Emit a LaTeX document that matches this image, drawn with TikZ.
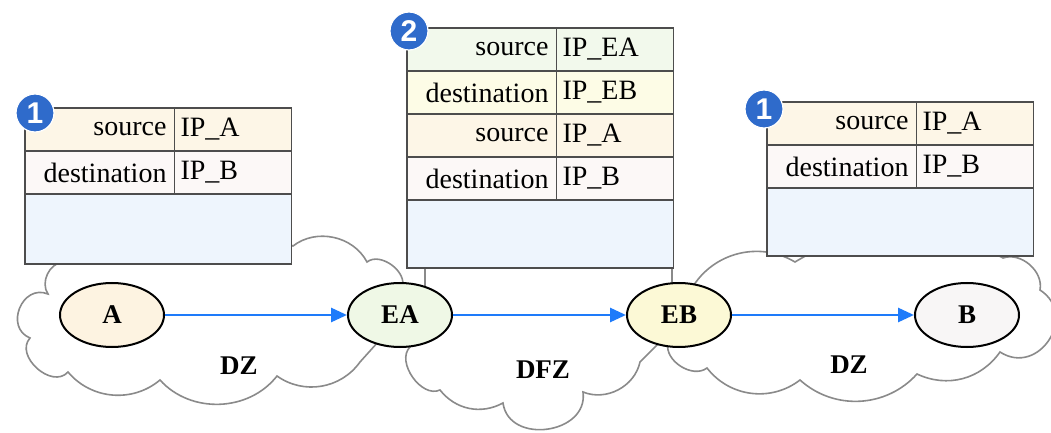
\documentclass[tikz,border=0pt]{standalone}
\usepackage{fontspec}
\setmainfont{Liberation Serif}
\newfontfamily\tabserif{Liberation Serif}
\newfontfamily\badgefont{Liberation Sans}
\usetikzlibrary{arrows.meta,shapes.geometric}
\definecolor{tabline}{HTML}{4D4D4D}
\definecolor{cloudline}{HTML}{8A8A8A}
\definecolor{srcA}{HTML}{FDF6E7}
\definecolor{dstB}{HTML}{FCF8F7}
\definecolor{blankc}{HTML}{EEF5FD}
\definecolor{srcEA}{HTML}{F2F9EC}
\definecolor{dstEB}{HTML}{FDFCE6}
\definecolor{fillA}{HTML}{FDF3E1}
\definecolor{fillEA}{HTML}{EFF8E6}
\definecolor{fillEB}{HTML}{FCF9D6}
\definecolor{fillB}{HTML}{F8F6F6}
\definecolor{badgeblue}{HTML}{2F6BCB}
\definecolor{arrowblue}{HTML}{1E7BFA}
\tikzset{
  tabfont/.style={font=\tabserif\fontsize{14}{16}\selectfont},
  cellk/.style={draw=tabline, line width=0.6pt, outer sep=0pt, minimum height=21.5pt, inner ysep=0pt,
    inner xsep=4pt, text width=66.75pt, align=right, anchor=north west, tabfont},
  cellv/.style={draw=tabline, line width=0.6pt, outer sep=0pt, minimum height=21.5pt, inner ysep=0pt,
    inner xsep=3pt, text width=52.5pt, align=left, anchor=north west, tabfont},
  blankcell/.style={draw=tabline, line width=0.6pt, outer sep=0pt, fill=blankc, minimum width=133.25pt,
    inner sep=0pt, anchor=north west},
  host/.style={ellipse, draw=black, line width=1pt, minimum width=52pt, minimum height=32pt,
    inner sep=0pt, font=\tabserif\fontsize{13.5}{16}\selectfont\bfseries},
  zone/.style={font=\tabserif\fontsize{13.5}{16}\selectfont\bfseries},
  badge/.style={circle, fill=badgeblue, draw=white, line width=0.6pt, minimum size=19pt,
    inner sep=0pt, text=white, font=\badgefont\fontsize{15}{15}\selectfont\bfseries},
  flow/.style={-{Triangle[length=8pt,width=7pt]}, line width=1.4pt, draw=arrowblue},
  cloudstroke/.style={draw=cloudline, line width=0.8pt}
}
\begin{document}
\begin{tikzpicture}[x=0.5pt, y=-0.5pt]
\useasboundingbox (0,0) rectangle (1051,433);
% clouds
\draw[cloudstroke] (63,262) to[bend left=30] (293,246) to[bend left=50] (367,262)
  to[bend left=75] (402,288) -- (378,342) -- (360,362) to[bend left=45] (277,376)
  to[bend left=50] (160,380) to[bend left=45] (68,372)
  to[bend left=90,looseness=1.2] (30,338) to[bend left=90,looseness=1.5] (48,294)
  to[bend left=60] (63,262);
\draw[cloudstroke] (425,266) -- (672,266) -- (672,285) -- (660,342) -- (640,362)
  to[bend left=50] (583,392) to[bend left=90,looseness=1.35] (503,403)
  to[bend left=40] (440,390) to[bend left=80] (410,347) -- (425,290) -- (425,266);
\draw[cloudstroke] (692,288) to[bend left=45] (795,262) to[bend left=30] (1003,258)
  to[bend left=60] (1040,290) to[bend left=90,looseness=1.6] (1000,352)
  to[bend left=40] (917,374) to[bend left=45] (800,380) to[bend left=45] (707,368)
  to[bend left=70] (668,343) -- (692,288);
% table 1
\node[cellk, fill=srcA] (t1k1) at (25,108) {source};
\node[cellv, fill=srcA] (t1v1) at (t1k1.north east) {IP\_A};
\node[cellk, fill=dstB] (t1k2) at (t1k1.south west) {destination};
\node[cellv, fill=dstB] (t1v2) at (t1k2.north east) {IP\_B};
\node[blankcell, minimum height=35pt] (t1b) at (t1k2.south west) {};
% table 2
\node[cellk, fill=srcEA] (t2k1) at (407,28) {source};
\node[cellv, fill=srcEA] (t2v1) at (t2k1.north east) {IP\_EA};
\node[cellk, fill=dstEB] (t2k2) at (t2k1.south west) {destination};
\node[cellv, fill=dstEB] (t2v2) at (t2k2.north east) {IP\_EB};
\node[cellk, fill=srcA] (t2k3) at (t2k2.south west) {source};
\node[cellv, fill=srcA] (t2v3) at (t2k3.north east) {IP\_A};
\node[cellk, fill=dstB] (t2k4) at (t2k3.south west) {destination};
\node[cellv, fill=dstB] (t2v4) at (t2k4.north east) {IP\_B};
\node[blankcell, minimum height=34pt] (t2b) at (t2k4.south west) {};
% table 3
\node[cellk, fill=srcA] (t3k1) at (767,102) {source};
\node[cellv, fill=srcA] (t3v1) at (t3k1.north east) {IP\_A};
\node[cellk, fill=dstB] (t3k2) at (t3k1.south west) {destination};
\node[cellv, fill=dstB] (t3v2) at (t3k2.north east) {IP\_B};
\node[blankcell, minimum height=34pt] (t3b) at (t3k2.south west) {};
% badges
\node[badge] (b1) at (35,113) {1};
\node[badge] (b2) at (409,31) {2};
\node[badge] (b3) at (764,109) {1};
% hosts
\node[host, fill=fillA] (A) at (112,315) {A};
\node[host, fill=fillEA] (EA) at (400,315) {EA};
\node[host, fill=fillEB] (EB) at (679,315) {EB};
\node[host, fill=fillB] (B) at (967,315) {B};
\draw[flow] (A) -- (EA);
\draw[flow] (EA) -- (EB);
\draw[flow] (EB) -- (B);
% zone labels
\node[zone] (dz1) at (239,366) {DZ};
\node[zone] (dfz) at (543,370) {DFZ};
\node[zone] (dz2) at (849,365) {DZ};
\end{tikzpicture}
\end{document}
